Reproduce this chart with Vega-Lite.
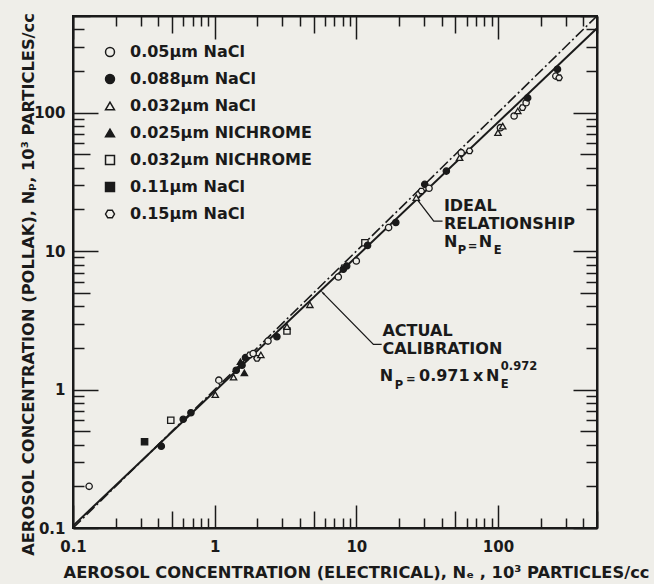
{
  "$schema": "https://vega.github.io/schema/vega-lite/v6.json",
  "width": 524,
  "height": 512,
  "autosize": "none",
  "padding": {"left": 73, "top": 16, "right": 57, "bottom": 56},
  "background": "#efeee9",
  "config": {
    "view": {"stroke": "#1a1a1a", "strokeWidth": 2},
    "font": "DejaVu Sans"
  },
  "datasets": {
    "points": [
      {"x": 0.13, "y": 0.2, "series": "0.05µm NaCl"},
      {"x": 0.32, "y": 0.42, "series": "0.11µm NaCl"},
      {"x": 0.42, "y": 0.39, "series": "0.088µm NaCl"},
      {"x": 0.49, "y": 0.6, "series": "0.032µm NICHROME"},
      {"x": 0.6, "y": 0.61, "series": "0.088µm NaCl"},
      {"x": 0.68, "y": 0.68, "series": "0.088µm NaCl"},
      {"x": 1.01, "y": 0.92, "series": "0.032µm NaCl"},
      {"x": 1.07, "y": 1.17, "series": "0.05µm NaCl"},
      {"x": 1.36, "y": 1.23, "series": "0.032µm NaCl"},
      {"x": 1.42, "y": 1.38, "series": "0.088µm NaCl"},
      {"x": 1.62, "y": 1.32, "series": "0.025µm NICHROME"},
      {"x": 1.52, "y": 1.59, "series": "0.025µm NICHROME"},
      {"x": 1.56, "y": 1.5, "series": "0.088µm NaCl"},
      {"x": 1.65, "y": 1.7, "series": "0.088µm NaCl"},
      {"x": 1.77, "y": 1.78, "series": "0.15µm NaCl"},
      {"x": 1.87, "y": 1.82, "series": "0.05µm NaCl"},
      {"x": 1.99, "y": 1.68, "series": "0.15µm NaCl"},
      {"x": 2.12, "y": 1.78, "series": "0.032µm NaCl"},
      {"x": 2.38, "y": 2.24, "series": "0.05µm NaCl"},
      {"x": 2.75, "y": 2.41, "series": "0.088µm NaCl"},
      {"x": 3.24, "y": 2.65, "series": "0.032µm NICHROME"},
      {"x": 3.24, "y": 2.85, "series": "0.032µm NaCl"},
      {"x": 4.7, "y": 4.1, "series": "0.032µm NaCl"},
      {"x": 7.46, "y": 6.5, "series": "0.05µm NaCl"},
      {"x": 8.09, "y": 7.4, "series": "0.088µm NaCl"},
      {"x": 8.55, "y": 7.82, "series": "0.088µm NaCl"},
      {"x": 10.0, "y": 8.5, "series": "0.05µm NaCl"},
      {"x": 11.5, "y": 11.5, "series": "0.032µm NICHROME"},
      {"x": 12.0, "y": 11.0, "series": "0.088µm NaCl"},
      {"x": 16.9, "y": 14.8, "series": "0.05µm NaCl"},
      {"x": 19.0, "y": 16.1, "series": "0.088µm NaCl"},
      {"x": 26.5, "y": 24.4, "series": "0.032µm NaCl"},
      {"x": 28.8, "y": 27.2, "series": "0.15µm NaCl"},
      {"x": 30.4, "y": 30.4, "series": "0.088µm NaCl"},
      {"x": 32.6, "y": 28.5, "series": "0.05µm NaCl"},
      {"x": 43.2, "y": 37.9, "series": "0.088µm NaCl"},
      {"x": 53.6, "y": 47.4, "series": "0.032µm NaCl"},
      {"x": 55.0, "y": 51.5, "series": "0.05µm NaCl"},
      {"x": 63.0, "y": 53.0, "series": "0.15µm NaCl"},
      {"x": 100, "y": 71.8, "series": "0.032µm NaCl"},
      {"x": 104, "y": 78, "series": "0.05µm NaCl"},
      {"x": 108, "y": 80, "series": "0.032µm NaCl"},
      {"x": 130, "y": 94.8, "series": "0.05µm NaCl"},
      {"x": 138, "y": 103, "series": "0.032µm NaCl"},
      {"x": 149, "y": 109, "series": "0.15µm NaCl"},
      {"x": 158, "y": 118, "series": "0.05µm NaCl"},
      {"x": 162, "y": 128, "series": "0.088µm NaCl"},
      {"x": 256, "y": 184, "series": "0.05µm NaCl"},
      {"x": 270, "y": 179, "series": "0.15µm NaCl"},
      {"x": 263, "y": 206, "series": "0.088µm NaCl"}
    ],
    "ideal": [{"x": 0.1, "y": 0.1}, {"x": 500, "y": 500}],
    "actual": [{"x": 0.1, "y": 0.1036}, {"x": 500, "y": 407.9}],
    "leaders": [
      {"id": "ideal", "x": 27.2, "y": 23.3},
      {"id": "ideal", "x": 35.2, "y": 16.5},
      {"id": "ideal", "x": 40.6, "y": 16.5},
      {"id": "actual", "x": 5.8, "y": 5.0},
      {"id": "actual", "x": 13.2, "y": 2.12},
      {"id": "actual", "x": 15.1, "y": 2.12}
    ],
    "tips": [{"x": 27.2, "y": 23.3}, {"x": 5.8, "y": 5.0}],
    "labels": [
      {"x": 41.5, "y": 19.5, "t": "IDEAL"},
      {"x": 41.5, "y": 14.39, "t": "RELATIONSHIP"},
      {"x": 41.5, "y": 10.69, "t": "N"},
      {"x": 73.3, "y": 10.69, "t": "N"},
      {"x": 15.3, "y": 2.44, "t": "ACTUAL"},
      {"x": 15.3, "y": 1.817, "t": "CALIBRATION"},
      {"x": 14.66, "y": 1.154, "t": "N"},
      {"x": 27.7, "y": 1.154, "t": "0.971"},
      {"x": 66.5, "y": 1.154, "t": "x"},
      {"x": 82.2, "y": 1.154, "t": "N"}
    ],
    "small": [
      {"x": 52.1, "y": 9.51, "t": "P"},
      {"x": 61.3, "y": 10.25, "t": "="},
      {"x": 93.5, "y": 9.51, "t": "E"},
      {"x": 18.7, "y": 1.01, "t": "P"},
      {"x": 22.4, "y": 1.107, "t": "="},
      {"x": 104.8, "y": 1.027, "t": "E"},
      {"x": 104.8, "y": 1.385, "t": "0.972"}
    ]
  },
  "layer": [
    {
      "data": {"name": "ideal"},
      "mark": {"type": "line", "stroke": "#1a1a1a", "strokeWidth": 1.6, "strokeDash": [11, 3, 2, 3]},
      "encoding": {
        "x": {"field": "x", "type": "quantitative",
          "scale": {"type": "log", "domain": [0.1, 500], "nice": false},
          "axis": {
            "orient": "top",
            "values": [0.1,0.2,0.3,0.4,0.5,0.6,0.7,0.8,0.9,1,2,3,4,5,6,7,8,9,10,20,30,40,50,60,70,80,90,100,200,300,400,500],
            "tickSize": {"condition": [{"test": "abs(log(datum.value)/LN10 - round(log(datum.value)/LN10)) < 0.01", "value": -23}, {"test": "abs(log(datum.value/5)/LN10 - round(log(datum.value/5)/LN10)) < 0.01", "value": -17}], "value": -10},
            "tickWidth": 1.5, "tickColor": "#1a1a1a",
            "domain": true, "domainWidth": 2, "domainColor": "#1a1a1a",
            "grid": false, "labels": false, "title": null
          }},
        "y": {"field": "y", "type": "quantitative",
          "scale": {"type": "log", "domain": [0.1, 500], "nice": false},
          "axis": {
            "orient": "right",
            "values": [0.1,0.2,0.3,0.4,0.5,0.6,0.7,0.8,0.9,1,2,3,4,5,6,7,8,9,10,20,30,40,50,60,70,80,90,100,200,300,400,500],
            "tickSize": {"condition": [{"test": "abs(log(datum.value)/LN10 - round(log(datum.value)/LN10)) < 0.01", "value": -24}, {"test": "abs(log(datum.value/5)/LN10 - round(log(datum.value/5)/LN10)) < 0.01", "value": -17}], "value": -11},
            "tickWidth": 1.5, "tickColor": "#1a1a1a",
            "domain": true, "domainWidth": 2, "domainColor": "#1a1a1a",
            "grid": false, "labels": false, "title": null
          }}
      }
    },
    {
      "data": {"name": "actual"},
      "mark": {"type": "line", "stroke": "#1a1a1a", "strokeWidth": 2},
      "encoding": {
        "x": {"field": "x", "type": "quantitative", "scale": {"type": "log", "domain": [0.1, 500], "nice": false}, "axis": null},
        "y": {"field": "y", "type": "quantitative", "scale": {"type": "log", "domain": [0.1, 500], "nice": false}, "axis": null}
      }
    },
    {
      "data": {"name": "leaders"},
      "mark": {"type": "line", "stroke": "#1a1a1a", "strokeWidth": 1.3},
      "encoding": {
        "x": {"field": "x", "type": "quantitative", "scale": {"type": "log", "domain": [0.1, 500], "nice": false}, "axis": null},
        "y": {"field": "y", "type": "quantitative", "scale": {"type": "log", "domain": [0.1, 500], "nice": false}, "axis": null},
        "detail": {"field": "id"}
      }
    },
    {
      "data": {"name": "tips"},
      "mark": {"type": "point", "shape": "wedge", "angle": -45, "size": 45, "filled": true, "color": "#1a1a1a", "opacity": 1},
      "encoding": {
        "x": {"field": "x", "type": "quantitative", "scale": {"type": "log", "domain": [0.1, 500], "nice": false}, "axis": null},
        "y": {"field": "y", "type": "quantitative", "scale": {"type": "log", "domain": [0.1, 500], "nice": false}, "axis": null}
      }
    },
    {
      "data": {"name": "points"},
      "mark": {"type": "point", "size": 40, "stroke": "#1a1a1a", "strokeWidth": 1.3, "opacity": 1},
      "encoding": {
        "x": {"field": "x", "type": "quantitative",
          "scale": {"type": "log", "domain": [0.1, 500], "nice": false},
          "axis": {
            "orient": "bottom",
            "values": [0.1,0.2,0.3,0.4,0.5,0.6,0.7,0.8,0.9,1,2,3,4,5,6,7,8,9,10,20,30,40,50,60,70,80,90,100,200,300,400,500],
            "tickSize": {"condition": [{"test": "abs(log(datum.value)/LN10 - round(log(datum.value)/LN10)) < 0.01", "value": -23}, {"test": "abs(log(datum.value/5)/LN10 - round(log(datum.value/5)/LN10)) < 0.01", "value": -17}], "value": -10},
            "tickWidth": 1.5, "tickColor": "#1a1a1a",
            "domain": true, "domainWidth": 2, "domainColor": "#1a1a1a",
            "grid": false,
            "format": "~g",
            "labelExpr": "abs(log(datum.value)/LN10 - round(log(datum.value)/LN10)) < 0.01 ? datum.label : ''",
            "labelFont": "DejaVu Sans", "labelFontWeight": "bold", "labelFontSize": 15, "labelColor": "#1a1a1a",
            "labelPadding": 34, "labelOverlap": false, "labelFlush": false, "labelBound": false,
            "title": "AEROSOL  CONCENTRATION (ELECTRICAL), Nₑ , 10³ PARTICLES/cc",
            "titleFont": "DejaVu Sans", "titleFontSize": 16.3, "titleFontWeight": "bold", "titleColor": "#1a1a1a",
            "titleX": 283, "titleY": 49, "titleBaseline": "alphabetic", "titleAlign": "center"
          }},
        "y": {"field": "y", "type": "quantitative",
          "scale": {"type": "log", "domain": [0.1, 500], "nice": false},
          "axis": {
            "orient": "left",
            "values": [0.1,0.2,0.3,0.4,0.5,0.6,0.7,0.8,0.9,1,2,3,4,5,6,7,8,9,10,20,30,40,50,60,70,80,90,100,200,300,400,500],
            "tickSize": {"condition": [{"test": "abs(log(datum.value)/LN10 - round(log(datum.value)/LN10)) < 0.01", "value": -25}, {"test": "abs(log(datum.value/5)/LN10 - round(log(datum.value/5)/LN10)) < 0.01", "value": -17}], "value": -11},
            "tickWidth": 1.5, "tickColor": "#1a1a1a",
            "domain": true, "domainWidth": 2, "domainColor": "#1a1a1a",
            "grid": false,
            "format": "~g",
            "labelExpr": "abs(log(datum.value)/LN10 - round(log(datum.value)/LN10)) < 0.01 ? datum.label : ''",
            "labelFont": "DejaVu Sans", "labelFontWeight": "bold", "labelFontSize": 15, "labelColor": "#1a1a1a",
            "labelPadding": 33, "labelOverlap": false, "labelFlush": false, "labelBound": false,
            "title": "AEROSOL CONCENTRATION (POLLAK), Nₚ, 10³ PARTICLES/cc",
            "titleFont": "DejaVu Sans", "titleFontSize": 16.3, "titleFontWeight": "bold", "titleColor": "#1a1a1a",
            "titleX": -40, "titleY": 268, "titleAngle": -90, "titleBaseline": "alphabetic", "titleAlign": "center"
          }},
        "shape": {"field": "series", "type": "nominal",
          "scale": {
            "domain": ["0.05µm NaCl", "0.088µm NaCl", "0.032µm NaCl", "0.025µm NICHROME", "0.032µm NICHROME", "0.11µm NaCl", "0.15µm NaCl"],
            "range": ["circle", "circle", "triangle-up", "triangle-up", "square", "square", "M-1,0L-0.5,-0.866L0.5,-0.866L1,0L0.5,0.866L-0.5,0.866Z"]
          },
          "legend": {
            "orient": "none", "legendX": 29, "legendY": 28, "title": null, "padding": 0,
            "labelFont": "DejaVu Sans", "labelFontSize": 16, "labelFontWeight": "bold", "labelColor": "#1a1a1a", "labelLimit": 400,
            "symbolSize": 80, "symbolStrokeColor": "#1a1a1a", "symbolStrokeWidth": 1.5, "symbolOpacity": 1,
            "rowPadding": 11, "labelOffset": 12,
            "encode": {"symbols": {"update": {"stroke": {"value": "#1a1a1a"}, "strokeWidth": {"value": 1.5}, "opacity": {"value": 1}}}}
          }},
        "fill": {"field": "series", "type": "nominal",
          "scale": {
            "domain": ["0.05µm NaCl", "0.088µm NaCl", "0.032µm NaCl", "0.025µm NICHROME", "0.032µm NICHROME", "0.11µm NaCl", "0.15µm NaCl"],
            "range": ["#efeee9", "#1a1a1a", "#efeee9", "#1a1a1a", "#efeee9", "#1a1a1a", "#efeee9"]
          },
          "legend": {
            "orient": "none", "legendX": 29, "legendY": 28, "title": null, "padding": 0,
            "labelFont": "DejaVu Sans", "labelFontSize": 16, "labelFontWeight": "bold", "labelColor": "#1a1a1a", "labelLimit": 400,
            "symbolSize": 80, "symbolStrokeColor": "#1a1a1a", "symbolStrokeWidth": 1.5, "symbolOpacity": 1,
            "rowPadding": 11, "labelOffset": 12,
            "encode": {"symbols": {"update": {"stroke": {"value": "#1a1a1a"}, "strokeWidth": {"value": 1.5}, "opacity": {"value": 1}}}}
          }}
      }
    },
    {
      "data": {"name": "labels"},
      "mark": {"type": "text", "font": "DejaVu Sans", "fontWeight": "bold", "fontSize": 16, "align": "left", "baseline": "alphabetic", "color": "#1a1a1a"},
      "encoding": {
        "x": {"field": "x", "type": "quantitative", "scale": {"type": "log", "domain": [0.1, 500], "nice": false}, "axis": null},
        "y": {"field": "y", "type": "quantitative", "scale": {"type": "log", "domain": [0.1, 500], "nice": false}, "axis": null},
        "text": {"field": "t"}
      }
    },
    {
      "data": {"name": "small"},
      "mark": {"type": "text", "font": "DejaVu Sans", "fontWeight": "bold", "fontSize": 11.5, "align": "left", "baseline": "alphabetic", "color": "#1a1a1a"},
      "encoding": {
        "x": {"field": "x", "type": "quantitative", "scale": {"type": "log", "domain": [0.1, 500], "nice": false}, "axis": null},
        "y": {"field": "y", "type": "quantitative", "scale": {"type": "log", "domain": [0.1, 500], "nice": false}, "axis": null},
        "text": {"field": "t"}
      }
    }
  ],
  "resolve": {"axis": {"x": "independent", "y": "independent"}}
}
